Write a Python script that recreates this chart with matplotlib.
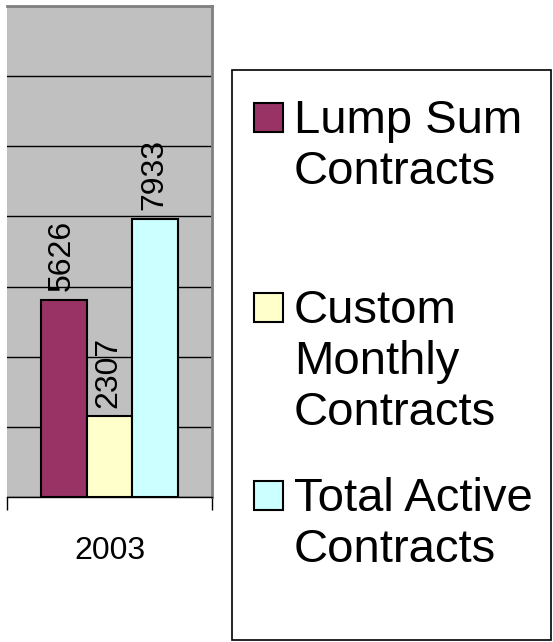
import matplotlib.pyplot as plt
from matplotlib.patches import Rectangle

plt.rcParams['font.family'] = ['Liberation Sans', 'DejaVu Sans']

year = "2003"
series_names = ["Lump Sum\nContracts", "Custom\nMonthly\nContracts", "Total Active\nContracts"]
series_values = [5626, 2307, 7933]
series_colors = ["#993366", "#FFFFCC", "#CCFFFF"]

fig = plt.figure(figsize=(5.53, 6.42), dpi=100)
ax = fig.add_axes([7 / 553, 145 / 642, 205 / 553, 491 / 642])
ax.set_facecolor("#C0C0C0")

bar_w = 0.224
offsets = [-bar_w, 0, bar_w]
for off, val, col in zip(offsets, series_values, series_colors):
    ax.bar(0.5 + off, val, width=bar_w, color=col, edgecolor="black", linewidth=1.5, zorder=3)
    ax.annotate(str(val), (0.5 + off, val), xytext=(-1, 6), textcoords="offset points",
                rotation=90, ha="center", va="bottom", fontsize=23, zorder=4)

ax.set_xlim(0, 1)
ax.set_ylim(0, 14000)
ax.set_yticks(range(0, 14001, 2000))
ax.yaxis.grid(True, color="black", linewidth=1, zorder=1)
ax.tick_params(axis="y", left=False, labelleft=False)
ax.set_xticks([0.5])
ax.set_xticklabels([year], fontsize=23)
ax.tick_params(axis="x", which="major", length=0, pad=28)
ax.set_xticks([0, 1], minor=True)
ax.tick_params(axis="x", which="minor", length=9, width=1, color="black")

ax.spines["left"].set_visible(False)
ax.spines["bottom"].set_color("black")
ax.spines["bottom"].set_linewidth(1)
for s in ["top", "right"]:
    ax.spines[s].set_color("#808080")
    ax.spines[s].set_linewidth(2)

# legend box, drawn by hand to keep the Excel-like spacing
W, H = 553.0, 642.0
fig.patches.append(Rectangle((232 / W, 1 - 640 / H), 319 / W, 570 / H, transform=fig.transFigure,
                             facecolor="white", edgecolor="black", linewidth=1.2))
tops = [100, 290, 478]
for name, col, yt in zip(series_names, series_colors, tops):
    fig.patches.append(Rectangle((254 / W, 1 - (yt + 32) / H), 29 / W, 29 / H, transform=fig.transFigure,
                                 facecolor=col, edgecolor="black", linewidth=1.5))
    fig.text(294 / W, 1 - (yt - 1) / H, name, fontsize=34, ha="left", va="top",
             linespacing=1.2)

fig.savefig("out.png", dpi=100)
